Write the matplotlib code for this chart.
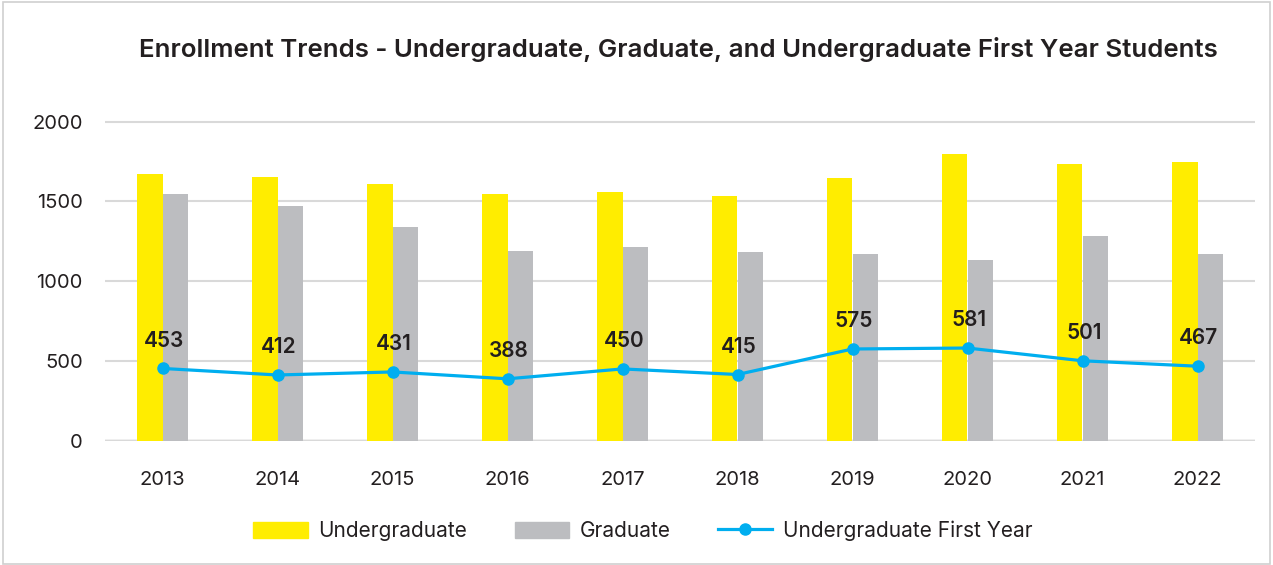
import matplotlib
matplotlib.use("Agg")
import matplotlib.pyplot as plt
import numpy as np
from matplotlib.patches import Rectangle
from matplotlib.lines import Line2D
from matplotlib.patches import Patch

plt.rcParams['font.family'] = ['Inter', 'DejaVu Sans']

years = ["2013", "2014", "2015", "2016", "2017", "2018", "2019", "2020", "2021", "2022"]
undergrad = [1672, 1655, 1609, 1547, 1559, 1534, 1647, 1797, 1735, 1747]
graduate = [1547, 1471, 1340, 1189, 1214, 1183, 1170, 1133, 1283, 1170]
first_year = [453, 412, 431, 388, 450, 415, 575, 581, 501, 467]
y_ticks = [0, 500, 1000, 1500, 2000]

YELLOW = "#FFED00"
GRAY = "#BCBDC0"
BLUE = "#00AEEF"
TEXT = "#231F20"

W, H = 1273, 565
fig = plt.figure(figsize=(W / 100, H / 100), dpi=100)
fig.patches.append(Rectangle((0.002, 0.002), 0.996, 0.994, transform=fig.transFigure,
                             fill=False, edgecolor="#d0d0d0", linewidth=1.2))

left, right = 105 / W, 1255 / W
bottom = 1 - 440.7 / H
top = 1 - 118.5 / H
ax = fig.add_axes([left, bottom, right - left, top - bottom])

x = np.arange(len(years))
bw = 0.226
ax.bar(x - bw / 2, undergrad, width=bw, color=YELLOW, zorder=2)
ax.bar(x + bw / 2, graduate, width=bw, color=GRAY, zorder=2)
ax.plot(x, first_year, color=BLUE, linewidth=2.3, marker="o", markersize=8, zorder=3)

for xi, v in zip(x, first_year):
    ax.annotate(str(v), (xi, v), xytext=(1, 20), textcoords="offset points",
                ha="center", va="center", fontsize=15, fontweight="semibold",
                color=TEXT, zorder=4)

ax.set_xlim(-0.5, len(years) - 0.5)
ax.set_ylim(0, 2020)
ax.set_yticks(y_ticks)
ax.set_yticklabels([str(t) for t in y_ticks])
ax.set_xticks(x)
ax.set_xticklabels(years)
for s in ax.spines.values():
    s.set_visible(False)
ax.grid(axis="y", color="#d9d9d9", linewidth=1.5, zorder=0)
ax.axhline(0, color="#c4c4c6", linewidth=2.5, zorder=1)
ax.tick_params(axis="both", length=0, labelsize=14.5, labelcolor=TEXT)
ax.tick_params(axis="x", pad=22)
ax.tick_params(axis="y", pad=16)

fig.text(678 / W, 1 - 50 / H,
         "Enrollment Trends - Undergraduate, Graduate, and Undergraduate First Year Students",
         fontsize=18.6, fontweight="semibold", color=TEXT, ha="center", va="center")

handles = [Patch(color=YELLOW), Patch(color=GRAY),
           Line2D([0], [0], color=BLUE, linewidth=2.3, marker="o", markersize=8)]
labels = ["Undergraduate", "Graduate", "Undergraduate First Year"]
fig.legend(handles, labels, loc="center", bbox_to_anchor=(643 / W, 1 - 531 / H),
           ncol=3, frameon=False, fontsize=15, handlelength=2.6, handleheight=0.87,
           columnspacing=2.3, handletextpad=0.5, labelcolor=TEXT)

fig.savefig("out.png", dpi=100)
